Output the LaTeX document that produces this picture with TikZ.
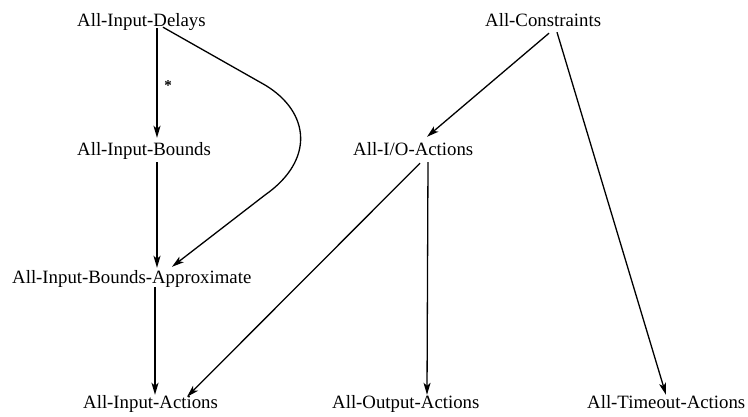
\documentclass[tikz,border=0pt]{standalone}
\usepackage{fontspec}
\setmainfont{Liberation Serif}
\usetikzlibrary{arrows.meta,calc}

\tikzset{
  lbl/.style={inner sep=0pt, text height=13pt, text depth=4pt, anchor=base west,
              font=\fontsize{18.8}{22}\selectfont},
  link/.style={line width=1.3pt, -{Stealth[length=12pt,width=7pt,inset=3pt]}},
}

\begin{document}
\begin{tikzpicture}[x=1pt,y=-1pt]
\useasboundingbox (0,0) rectangle (748,416);

% class names
\node[lbl] (delays)      at (77,26)  {All-Input-Delays};
\node[lbl] (constraints) at (485,26) {All-Constraints};
\node[lbl] (bounds)      at (77,155) {All-Input-Bounds};
\node[lbl] (io)          at (353,155) {All-I/O-Actions};
\node[lbl] (approx)      at (12,283) {All-Input-Bounds-Approximate};
\node[lbl] (inact)       at (83,408) {All-Input-Actions};
\node[lbl] (outact)      at (332,408) {All-Output-Actions};
\node[lbl] (toact)       at (587,408) {All-Timeout-Actions};

% left column
\draw[link] ($(delays.south west)+(80,-2)$) -- ($(bounds.north west)+(80,-4)$);
\node[inner sep=0pt, font=\fontsize{15}{15}\bfseries] (star) at (168,86) {*};
\draw[link] ($(bounds.south west)+(80,3)$) -- ($(approx.north west)+(145,-2)$);
\draw[link] ($(approx.south west)+(143,0)$) -- ($(inact.north west)+(72,0)$);

% bypass curve from the delays to the approximate bounds
\draw[link] ($(delays.south west)+(86,-3)$) -- (265,85)
  .. controls (310,112) and (315,160) .. (265,195)
  -- ($(approx.north west)+(160,-3)$);

% constraints hierarchy
\draw[link] ($(constraints.south west)+(64,3)$) -- ($(io.north west)+(74,-5)$);
\draw[link] ($(constraints.south west)+(72,2)$) -- ($(toact.north west)+(79,0)$);
\draw[link] ($(io.south west)+(67,4)$) -- ($(inact.north west)+(104,2)$);
\draw[link] ($(io.south west)+(75,3)$) -- ($(outact.north west)+(95,0)$);
\end{tikzpicture}
\end{document}
